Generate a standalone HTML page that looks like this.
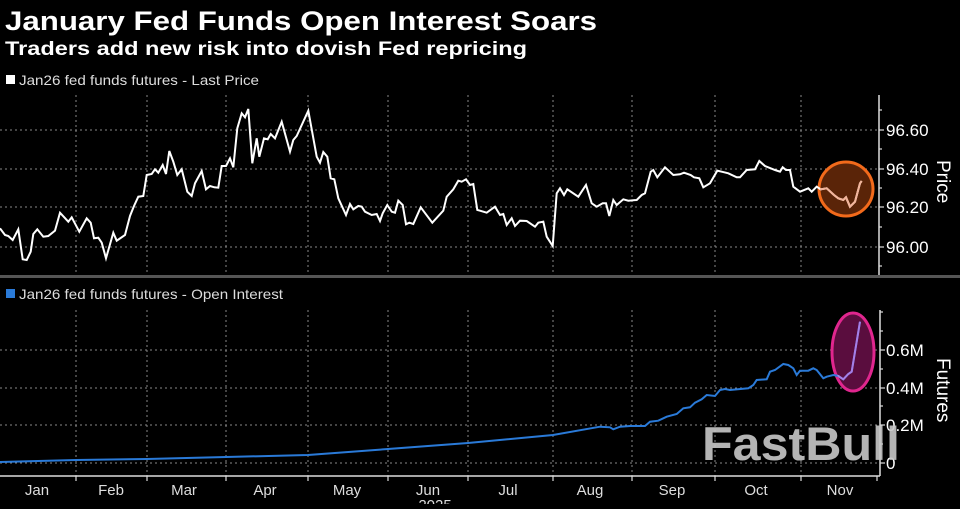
<!DOCTYPE html>
<html><head><meta charset="utf-8"><style>
body{margin:0;background:#000;width:960px;height:504px;overflow:hidden;font-family:"Liberation Sans",sans-serif;}
</style></head><body>
<svg id="s" width="960" height="504" xmlns="http://www.w3.org/2000/svg" font-family="Liberation Sans, sans-serif">
<defs>
<clipPath id="cc"><circle cx="846" cy="189" r="26"/></clipPath>
<clipPath id="ce"><ellipse cx="853" cy="352" rx="20" ry="38"/></clipPath>
</defs>
<rect width="960" height="504" fill="#000"/>
<text x="5" y="30" fill="#fff" font-size="27" font-weight="bold" textLength="592" lengthAdjust="spacingAndGlyphs">January Fed Funds Open Interest Soars</text>
<text x="5" y="55" fill="#fff" font-size="19" font-weight="bold" textLength="522" lengthAdjust="spacingAndGlyphs">Traders add new risk into dovish Fed repricing</text>
<rect x="6" y="75" width="9" height="9" fill="#fff"/>
<text x="19" y="85" fill="#ddd" font-size="14" textLength="240" lengthAdjust="spacingAndGlyphs">Jan26 fed funds futures - Last Price</text>
<rect x="6" y="289" width="9" height="9" fill="#2a7ad8"/>
<text x="19" y="299" fill="#ddd" font-size="14" textLength="264" lengthAdjust="spacingAndGlyphs">Jan26 fed funds futures - Open Interest</text>
<g id="grid" stroke="#888" stroke-dasharray="2,3" stroke-width="1"></g>
<rect x="0" y="275" width="960" height="3" fill="#555"/>
<g stroke="#ddd" stroke-width="1.5">
<line x1="879" y1="95" x2="879" y2="275"/>
<line x1="880" y1="310" x2="880" y2="476"/>
<line x1="0" y1="476" x2="880" y2="476"/>
</g>
<g id="ticks" stroke="#ddd" stroke-width="1.2"></g>
<g fill="#fff" font-size="17">
<text x="886" y="136">96.60</text><text x="886" y="175">96.40</text><text x="886" y="213">96.20</text><text x="886" y="253">96.00</text>
<text x="886" y="356">0.6M</text><text x="886" y="394">0.4M</text><text x="886" y="431">0.2M</text><text x="886" y="469">0</text>
<text transform="translate(937,160) rotate(90)" font-size="19">Price</text>
<text transform="translate(937,358) rotate(90)" font-size="19">Futures</text>
</g>
<g fill="#ddd" font-size="15" text-anchor="middle">
<text x="37" y="495">Jan</text><text x="111" y="495">Feb</text><text x="184" y="495">Mar</text><text x="265" y="495">Apr</text><text x="347" y="495">May</text><text x="428" y="495">Jun</text><text x="508" y="495">Jul</text><text x="590" y="495">Aug</text><text x="672" y="495">Sep</text><text x="756" y="495">Oct</text><text x="840" y="495">Nov</text>
<text x="435" y="510">2025</text>
</g>
<circle cx="846" cy="189" r="27" fill="#5a2408" stroke="#f26a1b" stroke-width="3"/>
<ellipse cx="853" cy="352" rx="21" ry="39" fill="#5a0d3e" stroke="#e0268e" stroke-width="3"/>
<polyline id="p1" fill="none" stroke="#fff" stroke-width="2"/>
<polyline id="p2" fill="none" stroke="#2a7ad8" stroke-width="2"/>
<polyline id="p1b" fill="none" stroke="#f3b49a" stroke-width="2" clip-path="url(#cc)"/>
<polyline id="p2b" fill="none" stroke="#a77ee6" stroke-width="2" clip-path="url(#ce)"/>
<text x="702" y="460" fill="#c8c8c8" fill-opacity="0.9" font-size="47" font-weight="bold" textLength="198" lengthAdjust="spacingAndGlyphs">FastBull</text>
</svg>
<script>
var ns="http://www.w3.org/2000/svg";
function el(p,t,a){var e=document.createElementNS(ns,t);for(var k in a)e.setAttribute(k,a[k]);document.getElementById(p).appendChild(e);}
var vx=[76,147,226,308,388,468,553,632,715,801];
vx.forEach(function(x){el('grid','line',{x1:x,y1:95,x2:x,y2:275});el('grid','line',{x1:x,y1:310,x2:x,y2:476});});
[130,169,207,247].forEach(function(y){el('grid','line',{x1:0,y1:y,x2:879,y2:y});el('ticks','line',{x1:879,y1:y,x2:884,y2:y});});
[110,149,188,227,266].forEach(function(y){el('ticks','line',{x1:879,y1:y,x2:882,y2:y});});
[350,388,425,463].forEach(function(y){el('grid','line',{x1:0,y1:y,x2:880,y2:y});el('ticks','line',{x1:880,y1:y,x2:885,y2:y});});
[312,331,369,406,444].forEach(function(y){el('ticks','line',{x1:880,y1:y,x2:883,y2:y});});
[76,147,226,308,388,468,553,632,715,801,877].forEach(function(x){el('ticks','line',{x1:x,y1:476,x2:x,y2:481});});
var a=[0,415,15,435,25,438,38,450,55,418,68,508,80,510,92,485,100,432,112,418,130,440,145,438,165,422,180,368,205,395,215,382,238,425,260,385,272,398,282,445,295,443,305,458,318,505,340,428,350,452,375,435,390,378,402,348,415,320,430,318,440,255,455,252,465,238,475,248,488,225,498,252,508,183,520,215,532,255,545,238,562,305,575,318,585,280,605,243,618,298,630,288,643,292,655,293,665,228,678,228,690,205,700,232,712,115,725,70,735,82,745,57,757,220,770,145,778,200,792,145,803,148,812,132,825,145,845,95,870,185,880,150,890,138,925,62,950,200,960,218,970,186,982,200,992,265,1003,268,1015,325,1038,375,1050,342,1060,358,1075,348,1085,350,1095,365,1115,375,1130,372,1140,393,1148,370,1162,345,1175,365,1185,368,1195,332,1208,345,1218,403,1228,398,1240,402,1262,352,1297,398,1330,362,1340,320,1360,298,1375,272,1385,275,1398,268,1410,285,1420,282,1432,360];
var b=[0,362,20,368,45,350,60,375,70,372,80,405,95,385,105,408,120,392,140,393,165,410,175,398,190,395,200,440,218,468,230,310,240,295,252,315,262,298,295,320,318,285,335,340,350,350,368,340,378,340,388,378,400,330,410,345,430,328,445,332,470,330,485,315,495,310,512,245,520,240,532,262,555,232,580,255,600,253,612,248,632,255,642,262,658,265,670,292,690,280,712,242,725,245,745,250,770,262,780,262,800,240,825,238,838,213,855,228,885,240,900,245,908,232,918,240,930,240,940,290,960,305,985,295,995,305,1010,290,1022,298,1040,295,1062,315,1075,325,1090,330,1098,322,1110,350,1125,335,1140,280,1145,273];
var pts=[];for(var i=0;i<a.length;i+=2)pts.push((a[i]/3).toFixed(1)+','+(a[i+1]/3+90).toFixed(1));
for(var i=0;i<b.length;i+=2)pts.push((480+b[i]/3).toFixed(1)+','+(b[i+1]/3+90).toFixed(1));
document.getElementById('p1').setAttribute('points',pts.join(' '));
document.getElementById('p1b').setAttribute('points',pts.join(' '));
var c=[[0,462],[76,460],[147,459],[226,457],[308,455],[388,449],[468,443],[553,435]];
var z=[0,410,30,412,40,418,60,410,90,408,135,408,150,395,175,392,200,380,230,372,250,355,270,352,285,338,305,328,320,315,345,318,360,300,375,297,390,300,445,295,460,285,470,270,500,268,510,245,525,240,550,222,565,225,580,235,590,255,600,242,625,242,640,235,650,240,670,265,680,260,700,255,715,258,730,268,745,252,755,245,780,95];
var q=c.map(function(p){return p.join(',');});
for(var i=0;i<z.length;i+=2)q.push((600+z[i]/3).toFixed(1)+','+(290+z[i+1]/3).toFixed(1));
document.getElementById('p2').setAttribute('points',q.join(' '));
document.getElementById('p2b').setAttribute('points',q.join(' '));
</script>
</body></html>
